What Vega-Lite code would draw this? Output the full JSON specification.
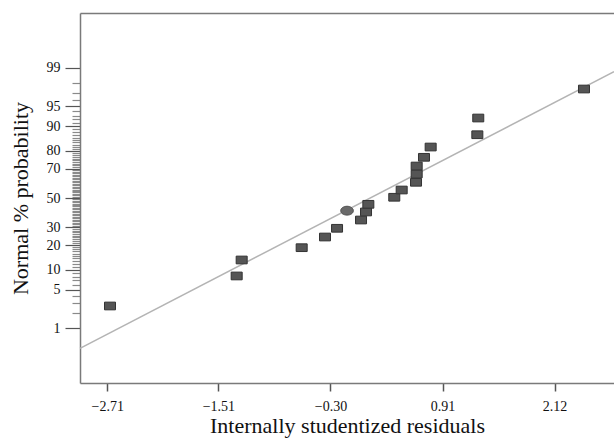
{
  "$schema": "https://vega.github.io/schema/vega-lite/v6.json",
  "width": 534,
  "height": 370,
  "autosize": "none",
  "padding": {"left": 80, "top": 13, "right": 0, "bottom": 56},
  "background": "white",
  "config": {"view": {"stroke": null}, "font": "Liberation Serif"},
  "datasets": {
    "pts": [
      {"res": -2.681, "z": -1.932},
      {"res": -1.313, "z": -1.395},
      {"res": -1.259, "z": -1.109},
      {"res": -0.611, "z": -0.889},
      {"res": -0.359, "z": -0.698},
      {"res": -0.229, "z": -0.542},
      {"res": 0.030, "z": -0.394},
      {"res": 0.084, "z": -0.250},
      {"res": 0.109, "z": -0.113},
      {"res": 0.389, "z": 0.013},
      {"res": 0.469, "z": 0.143},
      {"res": 0.624, "z": 0.281},
      {"res": 0.631, "z": 0.429},
      {"res": 0.631, "z": 0.572},
      {"res": 0.710, "z": 0.728},
      {"res": 0.782, "z": 0.912},
      {"res": 1.286, "z": 1.132},
      {"res": 1.296, "z": 1.431},
      {"res": 2.438, "z": 1.950}
    ],
    "ctr": [{"res": -0.121, "z": -0.227}],
    "fit": [{"res": -3.005, "z": -2.689}, {"res": 2.762, "z": 2.259}]
  },
  "layer": [
    {
      "data": {"name": "fit"},
      "mark": {"type": "line", "color": "#b4b4b4", "strokeWidth": 1.5},
      "encoding": {
        "x": {"field": "res", "type": "quantitative", "scale": {"domain": [-3.005, 2.762], "nice": false, "zero": false},
          "axis": {"orient": "top", "labels": false, "ticks": false, "title": null, "grid": false, "domainColor": "#7a7a7a", "domainWidth": 1.5}},
        "y": {"field": "z", "type": "quantitative", "scale": {"domain": [-3.31, 3.31], "nice": false, "zero": false},
          "axis": {"orient": "left", "title": null, "grid": false, "labels": false, "domain": false, "tickSize": 8, "tickColor": "#8a8a8a", "tickWidth": 1.2,
            "values": [-2.0537,-1.8808,-1.7507,-1.5548,-1.4758,-1.4051,-1.3408,-1.2265,-1.1750,-1.1264,-1.0803,-1.0364,-0.9945,-0.9542,-0.9154,-0.8779,-0.8064,-0.7722,-0.7388,-0.7063,-0.6745,-0.6433,-0.6128,-0.5828,-0.5534,-0.4959,-0.4677,-0.4399,-0.4125,-0.3853,-0.3585,-0.3319,-0.3055,-0.2793,-0.2533,-0.2275,-0.2019,-0.1764,-0.1510,-0.1257,-0.1004,-0.0753,-0.0502,-0.0251,0.0251,0.0502,0.0753,0.1004,0.1257,0.1510,0.1764,0.2019,0.2275,0.2533,0.2793,0.3055,0.3319,0.3585,0.3853,0.4125,0.4399,0.4677,0.4959,0.5534,0.5828,0.6128,0.6433,0.6745,0.7063,0.7388,0.7722,0.8064,0.8779,0.9154,0.9542,0.9945,1.0364,1.0803,1.1264,1.1750,1.2265,1.3408,1.4051,1.4758,1.5548,1.7507,1.8808,2.0537]}}
      }
    },
    {
      "data": {"name": "pts"},
      "mark": {"type": "point", "shape": "M-1,-0.7H1V0.7H-1Z", "size": 121, "filled": true, "fill": "#555555", "stroke": "#333333", "strokeWidth": 1, "opacity": 1},
      "encoding": {
        "x": {"field": "res", "type": "quantitative",
          "axis": {"title": "Internally studentized residuals", "values": [-2.71, -1.51, -0.30, 0.91, 2.12], "format": ".2f", "grid": false,
            "labelFont": "Liberation Serif", "labelFontSize": 14, "labelColor": "#111", "labelPadding": 8,
            "tickSize": 8, "tickColor": "#555", "tickWidth": 1.5, "domainColor": "#7a7a7a", "domainWidth": 1.5,
            "titleFont": "Liberation Serif", "titleFontSize": 22, "titleFontWeight": "normal", "titleColor": "#111", "titlePadding": 2}},
        "y": {"field": "z", "type": "quantitative",
          "axis": {"orient": "left", "title": "Normal % probability", "grid": false, "labelOverlap": false,
            "values": [-2.3263, -1.6449, -1.2816, -0.8416, -0.5244, 0, 0.5244, 0.8416, 1.2816, 1.6449, 2.3263],
            "labelExpr": "format(round(100*cumulativeNormal(datum.value)), 'd')",
            "tickSize": 15, "tickColor": "#555", "tickWidth": 1.2,
            "labelFont": "Liberation Serif", "labelFontSize": 14, "labelColor": "#111", "labelPadding": 5,
            "domainColor": "#7a7a7a", "domainWidth": 1.5,
            "titleFont": "Liberation Serif", "titleFontSize": 22, "titleFontWeight": "normal", "titleColor": "#111", "titlePadding": 14}}
      }
    },
    {
      "data": {"name": "ctr"},
      "mark": {"type": "point", "shape": "M-1,0A1,0.7,0,1,0,1,0A1,0.7,0,1,0,-1,0Z", "size": 160, "filled": true, "fill": "#6a6a6a", "stroke": "#505050", "strokeWidth": 1, "opacity": 1},
      "encoding": {
        "x": {"field": "res", "type": "quantitative", "axis": null},
        "y": {"field": "z", "type": "quantitative", "axis": null}
      }
    }
  ],
  "resolve": {"axis": {"x": "independent", "y": "independent"}}
}
